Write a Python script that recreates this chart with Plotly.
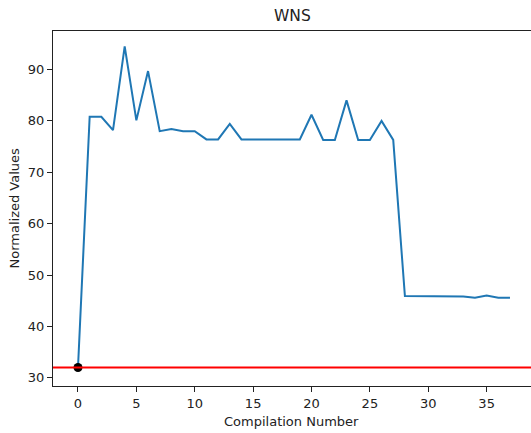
import plotly.graph_objects as go

compilation = list(range(38))
wns_values = [32.0, 80.8, 80.8, 78.2, 94.5, 80.1, 89.7, 78.0, 78.4, 78.0,
              78.0, 76.4, 76.4, 79.4, 76.4, 76.4, 76.4, 76.4, 76.4, 76.4,
              81.2, 76.3, 76.3, 84.0, 76.3, 76.3, 80.0, 76.3, 45.9, 45.9,
              45.9, 45.9, 45.9, 45.8, 45.6, 46.0, 45.6, 45.6]
baseline_value = 32.0
title_text = "WNS"
x_label = "Compilation Number"
y_label = "Normalized Values"
x_ticks = [0, 5, 10, 15, 20, 25, 30, 35]
y_ticks = [30, 40, 50, 60, 70, 80, 90]

FONT = "DejaVu Sans"
W, H = 531, 433
ml, mt, mb = 53.3, 30.7, 46.7

fig = go.Figure()
fig.add_trace(go.Scatter(x=compilation, y=wns_values, mode="lines",
                         line=dict(color="#1f77b4", width=2), showlegend=False))
fig.add_trace(go.Scatter(x=[compilation[0]], y=[wns_values[0]], mode="markers",
                         marker=dict(color="black", size=9), showlegend=False))
fig.add_shape(type="line", xref="paper", yref="y", x0=0, x1=1,
              y0=baseline_value, y1=baseline_value,
              line=dict(color="red", width=2))

axis_common = dict(showline=True, linecolor="#222", linewidth=1, mirror=True,
                   ticks="outside", ticklen=5, tickwidth=1, tickcolor="#222",
                   showgrid=False, zeroline=False,
                   tickfont=dict(family=FONT, size=13, color="#222"))
fig.update_xaxes(range=[-2.14, 38.8], tickvals=x_ticks, **axis_common)
fig.update_yaxes(range=[28.4, 97.5], tickvals=y_ticks, **axis_common)

fig.update_layout(
    width=W, height=H,
    margin=dict(l=ml, r=0, t=mt, b=mb, pad=0),
    paper_bgcolor="white", plot_bgcolor="white",
    font=dict(family=FONT, size=13, color="#222"),
    annotations=[
        dict(text=title_text, xref="paper", yref="paper", x=(293 - ml) / (W - ml),
             y=1, yanchor="bottom", xanchor="center", yshift=4, showarrow=False,
             font=dict(family=FONT, size=15.5, color="#222")),
        dict(text=x_label, xref="paper", yref="paper", x=(292 - ml) / (W - ml),
             y=0, yanchor="top", xanchor="center", yshift=-26, showarrow=False,
             font=dict(family=FONT, size=13, color="#222")),
        dict(text=y_label, xref="paper", yref="paper", x=0, xshift=-39,
             y=0.5, yanchor="middle", xanchor="center", textangle=-90, showarrow=False,
             font=dict(family=FONT, size=13, color="#222")),
    ],
)

fig.write_html("out.html")
